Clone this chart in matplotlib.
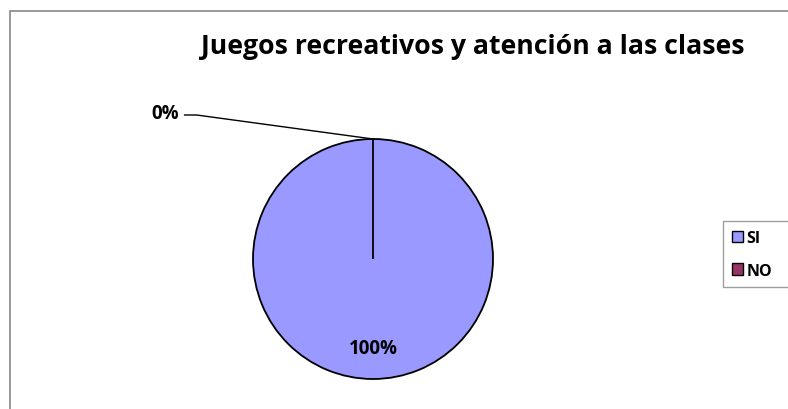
import numpy as np
import matplotlib
matplotlib.use("Agg")
import matplotlib.pyplot as plt
from matplotlib.patches import Rectangle

categories = ["SI", "NO"]
values = [100, 0]
colors = ["#9999FF", "#993366"]
title = "Juegos recreativos y atención a las clases"

plt.rcParams["font.family"] = ["Open Sans", "DejaVu Sans"]

W, H = 788, 410
fig = plt.figure(figsize=(W / 100, H / 100), dpi=100)

# chart area border (only top and left edges fall inside the image)
fig.patches.append(Rectangle((10 / W, -0.1), 1.2, 1 - 12 / H + 0.1,
                             transform=fig.transFigure, fill=False,
                             edgecolor="#868686", linewidth=1.2))

# pie axes: centre (373, 260) px, radius 120 px
cx, cy, r = 373, 260, 120
ax = fig.add_axes([(cx - r) / W, (H - cy - r) / H, 2 * r / W, 2 * r / H])
wedges, _ = ax.pie(values, colors=colors, startangle=90, counterclock=False,
                   wedgeprops=dict(edgecolor="black", linewidth=1.3))
ax.set_xlim(-1, 1)
ax.set_ylim(-1, 1)
ax.set_aspect("auto")
ax.axis("off")

total = sum(values)
angle = 90.0
for val, w in zip(values, wedges):
    span = 360.0 * val / total
    mid = np.deg2rad(angle - span / 2)
    pct = f"{val / total * 100:.0f}%"
    if val / total > 0.05:
        ax.text(0.74 * np.cos(mid), 0.74 * np.sin(mid), pct,
                ha="center", va="center", fontsize=13.5, fontweight="bold",
                clip_on=False)
    else:
        px, py = np.cos(mid), np.sin(mid)
        ax.plot([px, -1.47, -1.57], [py, 1.2, 1.2], color="black",
                linewidth=1.0, clip_on=False)
        ax.text(-1.62, 1.22, pct, ha="right", va="center", fontsize=13.5,
                fontweight="bold", clip_on=False)
    angle -= span

fig.text(473 / W, 1 - 47 / H, title, ha="center", va="center",
         fontsize=19.2, fontweight="bold")

leg = fig.legend(wedges, categories, loc="upper left",
                 bbox_to_anchor=(723 / W, 1 - 288 / H, 90 / W, 66 / H),
                 mode="expand",
                 frameon=True, fancybox=False, handlelength=0.7,
                 handleheight=0.7, handletextpad=0.2, labelspacing=1.05,
                 borderpad=0.55, borderaxespad=0,
                 prop=dict(size=11.5, weight="bold"))
leg.get_frame().set_edgecolor("#868686")
leg.get_frame().set_linewidth(1.0)
for h in leg.legend_handles:
    h.set_edgecolor("black")
    h.set_linewidth(1.0)

fig.savefig("out.png", dpi=100)
